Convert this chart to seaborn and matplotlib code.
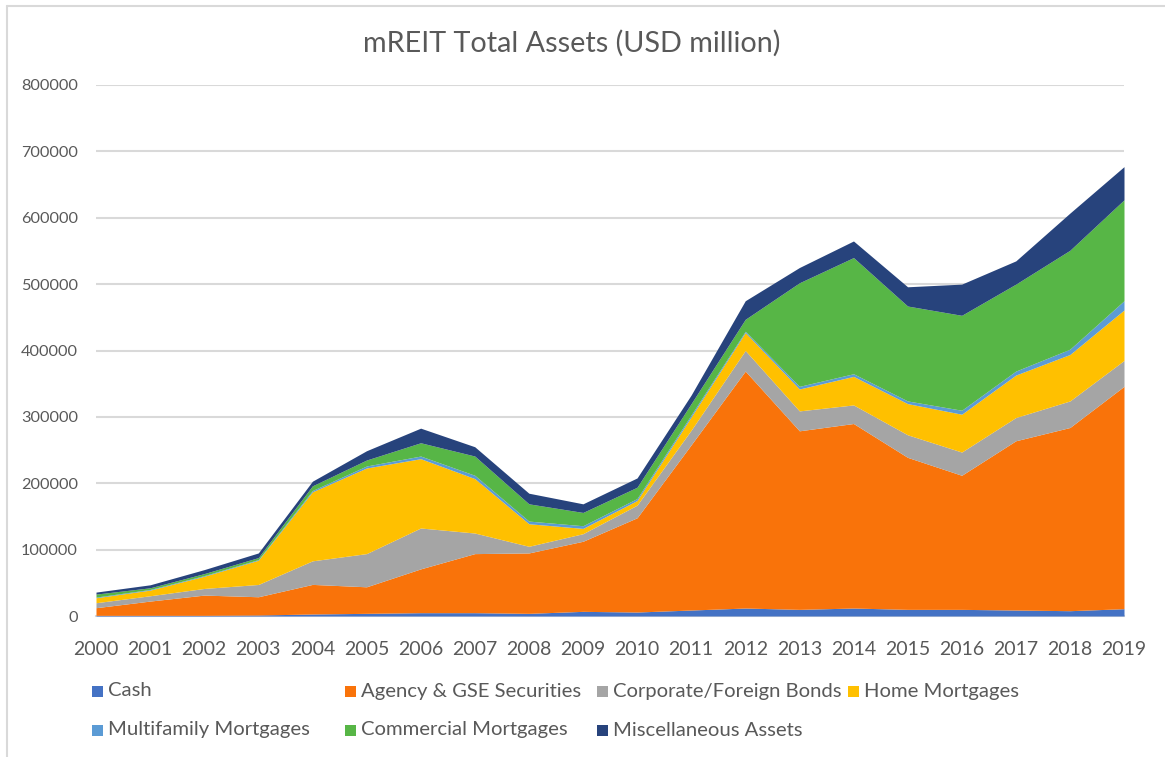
import matplotlib
matplotlib.use("Agg")
import matplotlib.pyplot as plt
from matplotlib.patches import Rectangle
from matplotlib.lines import Line2D
import seaborn as sns

# values in USD million
years = list(range(2000, 2020))
cash = [1000, 1000, 1000, 1500, 3000, 4000, 5000, 5000, 4000, 7000,
        6000, 9000, 12000, 10000, 12000, 10000, 10000, 9000, 8000, 11000]
agency = [11500, 21500, 30500, 27500, 44600, 40000, 66000, 89000, 91000, 105600,
          142000, 249000, 357000, 269000, 278000, 229000, 202000, 255000, 276000, 335000]
corporate = [7500, 8000, 10000, 18500, 35500, 50000, 61600, 31000, 10000, 11400,
             19000, 22000, 31000, 30000, 28000, 34000, 35000, 35000, 40000, 39000]
home = [7500, 8500, 18400, 36500, 104000, 129000, 104400, 82000, 34000, 8000,
        7000, 20000, 27000, 33000, 43000, 47000, 57000, 64000, 70000, 76000]
multifamily = [1000, 1000, 1000, 1000, 2000, 3000, 4000, 5000, 4000, 4000,
               3000, 3000, 2000, 4000, 4000, 4000, 6000, 6000, 8000, 14000]
commercial = [4500, 2500, 3000, 3000, 7000, 9000, 20000, 29000, 26000, 20000,
              17000, 17000, 18000, 156000, 175000, 143000, 143000, 131000, 149000, 152000]
misc = [3000, 4500, 6000, 7000, 7000, 14000, 22000, 14000, 16000, 13000,
        14000, 13000, 28000, 23000, 25000, 29000, 47000, 35000, 56000, 50000]

labels = ["Cash", "Agency & GSE Securities", "Corporate/Foreign Bonds", "Home Mortgages",
          "Multifamily Mortgages", "Commercial Mortgages", "Miscellaneous Assets"]
colors = ["#4472C4", "#F9730A", "#A5A5A5", "#FFC000", "#5B9BD5", "#57B646", "#27437C"]
yticks = [0, 100000, 200000, 300000, 400000, 500000, 600000, 700000, 800000]

W, H = 1165, 757

sns.set_theme(style="white")
plt.rcParams["font.family"] = ["Lato", "DejaVu Sans"]

fig = plt.figure(figsize=(W / 100, H / 100), dpi=100)
ax = fig.add_axes([96 / W, 1 - 616 / H, 1028 / W, 531 / H])

ax.stackplot(years, cash, agency, corporate, home, multifamily, commercial, misc,
             colors=colors, linewidth=0, zorder=3)

ax.set_xlim(2000, 2019)
ax.set_ylim(0, 800000)
ax.set_xticks(years)
ax.set_xticklabels([str(y) for y in years])
ax.set_yticks(yticks)
ax.set_yticklabels([str(v) for v in yticks])
ax.yaxis.grid(True, color="#D9D9D9", linewidth=1.5, zorder=0)
ax.xaxis.grid(False)
sns.despine(ax=ax, left=True, top=True, right=True, bottom=False)
ax.spines["bottom"].set_color("#D9D9D9")
ax.spines["bottom"].set_linewidth(1.5)
ax.tick_params(axis="x", length=0, pad=18, labelsize=14, labelcolor="#595959")
ax.tick_params(axis="y", length=0, pad=13, labelsize=11.7, labelcolor="#595959")

fig.text(572 / W, 1 - 43 / H, "mREIT Total Assets (USD million)",
         ha="center", va="center", fontsize=20.7, color="#595959")

# legend laid out like Excel: 4 entries on the first row, 3 on the second
legend_x = [92, 345, 597, 848, 92, 345, 597]
legend_y = [691, 691, 691, 691, 730, 730, 730]
box = 11
for lab, col, lx, ly in zip(labels, colors, legend_x, legend_y):
    fig.add_artist(Rectangle((lx / W, 1 - (ly + box / 2) / H), box / W, box / H,
                             transform=fig.transFigure, facecolor=col, edgecolor="none"))
    fig.text((lx + box + 5) / W, 1 - ly / H, lab, ha="left", va="center",
             fontsize=14.6, color="#595959")

# chart frame (left and top edges visible)
fig.add_artist(Line2D([7 / W, 7 / W], [0, 1 - 6 / H], transform=fig.transFigure,
                      color="#D9D9D9", linewidth=1.5))
fig.add_artist(Line2D([7 / W, 1], [1 - 6 / H, 1 - 6 / H], transform=fig.transFigure,
                      color="#D9D9D9", linewidth=1.5))

fig.savefig("out.png", dpi=100, facecolor="white")
